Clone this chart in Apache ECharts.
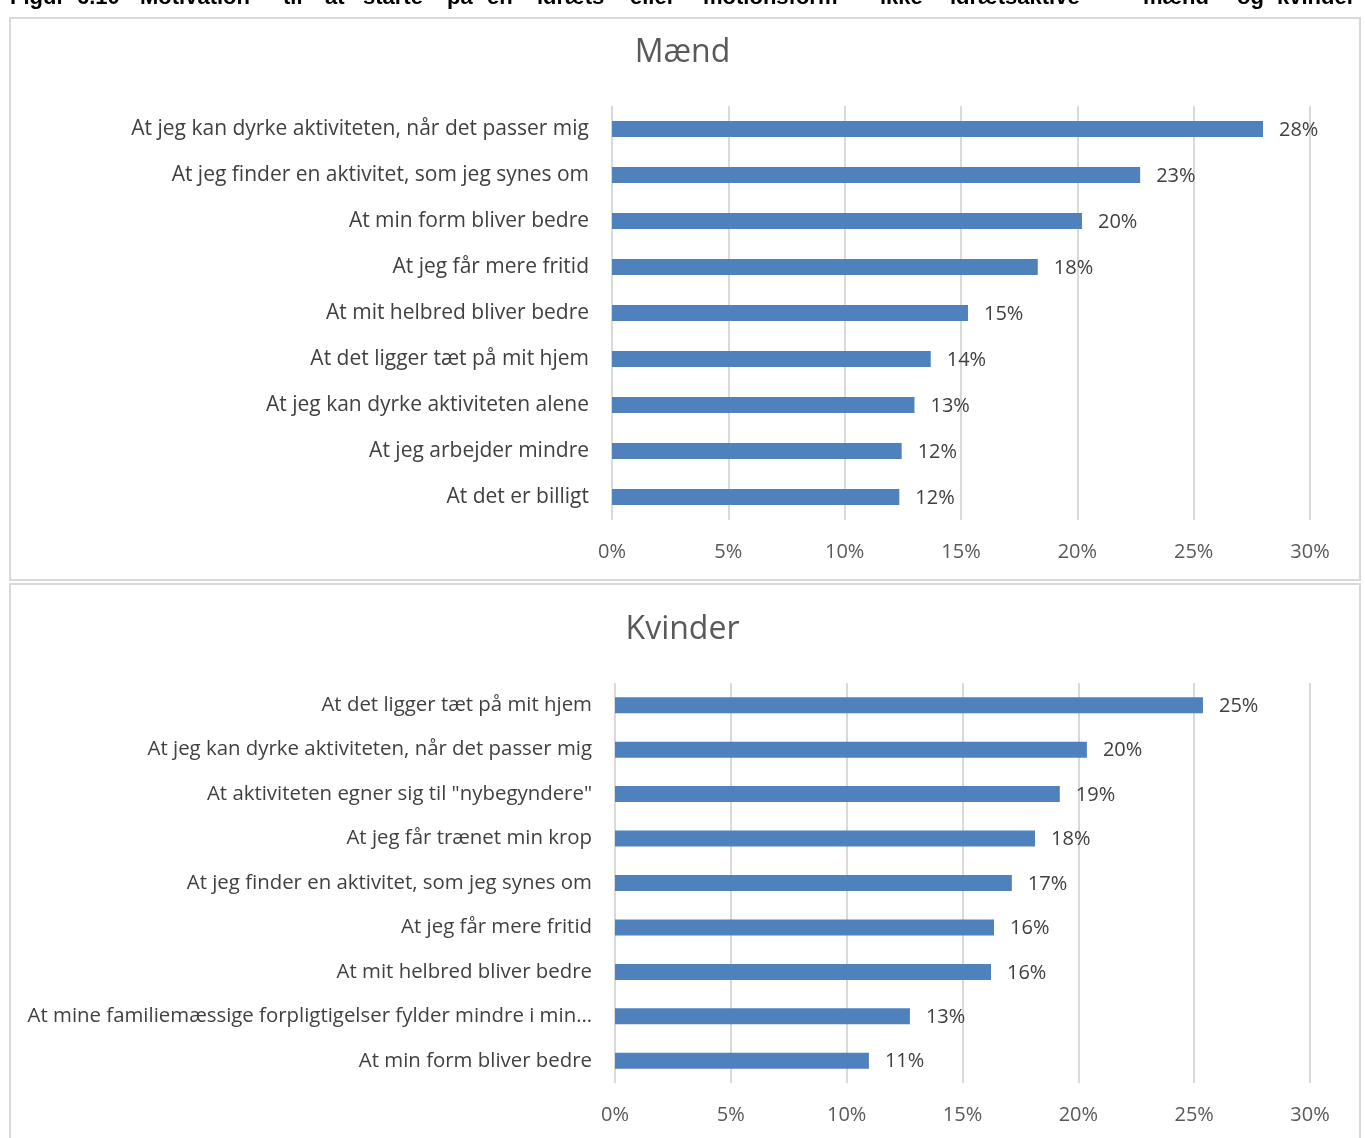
<!DOCTYPE html>
<html><head><meta charset="utf-8">
<script src="https://cdn.jsdelivr.net/npm/echarts@6/dist/echarts.min.js"></script>
<style>html,body{margin:0;padding:0;background:#fff;}#c{width:1365px;height:1138px;}</style>
</head><body><div id="c"></div>
<script>
const caption = ["Figur","6.10","Motivation","til","at","starte","på","en","idræts-","eller","motionsform","–","ikke","idrætsaktive","mænd","og","kvinder"];
const captionX = [10,77,140,283,325,363,447,487,537,630,703,842,880,950,1143,1237,1277];

const titleTop = "Mænd";
const catsTop = ["At jeg kan dyrke aktiviteten, når det passer mig","At jeg finder en aktivitet, som jeg synes om","At min form bliver bedre","At jeg får mere fritid","At mit helbred bliver bedre","At det ligger tæt på mit hjem","At jeg kan dyrke aktiviteten alene","At jeg arbejder mindre","At det er billigt"];
const valsTop = [27.98, 22.7, 20.2, 18.3, 15.3, 13.7, 13.0, 12.45, 12.35];

const titleBottom = "Kvinder";
const catsBottom = ["At det ligger tæt på mit hjem","At jeg kan dyrke aktiviteten, når det passer mig","At aktiviteten egner sig til \"nybegyndere\"","At jeg får trænet min krop","At jeg finder en aktivitet, som jeg synes om","At jeg får mere fritid","At mit helbred bliver bedre","At mine familiemæssige forpligtigelser fylder mindre i min…","At min form bliver bedre"];
const valsBottom = [25.38, 20.37, 19.2, 18.13, 17.13, 16.36, 16.23, 12.73, 10.96];

const axisTicks = [0,5,10,15,20,25,30];

const FONT = 'Open Sans';
const chart = echarts.init(document.getElementById('c'));

function xAx(gi){
  return {gridIndex:gi,type:'value',min:axisTicks[0],max:axisTicks[axisTicks.length-1],interval:axisTicks[1]-axisTicks[0],
    axisLine:{show:false},axisTick:{show:false},
    splitLine:{show:true,lineStyle:{color:'#d9d9d9',width:2}},
    axisLabel:{formatter:v=>v+'%',color:'#595959',fontSize:20,fontFamily:FONT,margin:22}};
}
function yAx(gi,cats,fs){
  return {gridIndex:gi,type:'category',data:cats,inverse:true,
    axisLine:{show:false},axisTick:{show:false},splitLine:{show:false},
    axisLabel:{color:'#404040',fontSize:fs,fontFamily:FONT,margin:23}};
}
function ser(gi,vals){
  return {type:'bar',xAxisIndex:gi,yAxisIndex:gi,data:vals,barWidth:16,
    itemStyle:{color:'#4f81bd'},
    label:{show:true,position:'right',distance:16,offset:[0,1],formatter:p=>Math.round(p.value)+'%',color:'#404040',fontSize:20,fontFamily:FONT}};
}

const graphics = [
  {type:'rect',shape:{x:10,y:18,width:1350,height:562},style:{fill:'none',stroke:'#d9d9d9',lineWidth:2}},
  {type:'rect',shape:{x:10,y:584,width:1350,height:600},style:{fill:'none',stroke:'#d9d9d9',lineWidth:2}}
];
caption.forEach((w,i)=>graphics.push({type:'text',x:captionX[i],y:9,style:{text:w,fontSize:22,fontWeight:'bold',fontFamily:'Liberation Sans',fill:'#000',verticalAlign:'bottom'}}));

chart.setOption({
  animation:false,
  backgroundColor:'#fff',
  title:[
    {text:titleTop,left:'center',top:32,textStyle:{fontSize:32,fontWeight:'normal',color:'#595959',fontFamily:FONT}},
    {text:titleBottom,left:'center',top:609,textStyle:{fontSize:32,fontWeight:'normal',color:'#595959',fontFamily:FONT}}
  ],
  grid:[
    {left:612,right:55,top:106,height:414},
    {left:615,right:55,top:683,height:400}
  ],
  xAxis:[xAx(0),xAx(1)],
  yAxis:[yAx(0,catsTop,21),yAx(1,catsBottom,20.4)],
  series:[ser(0,valsTop),ser(1,valsBottom)],
  graphic:graphics
});
</script></body></html>
